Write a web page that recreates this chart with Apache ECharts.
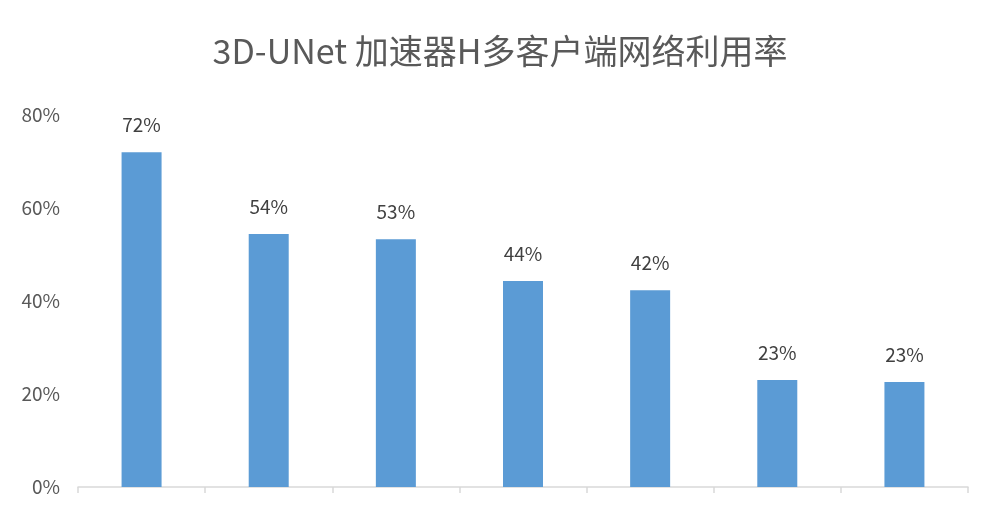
<!DOCTYPE html>
<html>
<head>
<meta charset="utf-8">
<script src="https://cdn.jsdelivr.net/npm/echarts@6/dist/echarts.min.js"></script>
<style>
    html, body {margin: 0; padding: 0; background: #fff;}
    #chartDiv {width: 1000px; height: 510px;}
</style>
</head>
<body>
<div id="chartDiv"></div>
<script>
    var titleText = '3D-UNet 加速器H多客户端网络利用率';
    var categories = ['1', '2', '3', '4', '5', '6', '7'];
    var utilization = [72.0, 54.4, 53.3, 44.3, 42.3, 23.0, 22.6];
    var yTicks = [0, 20, 40, 60, 80];

    var font = '"Noto Sans CJK SC", "Microsoft YaHei", sans-serif';

    var chart = echarts.init(document.getElementById('chartDiv'));
    var option = {
        animation: false,
        title: {
            text: titleText,
            left: 'center',
            top: 29,
            textStyle: {fontFamily: font, fontWeight: 'normal', fontSize: 34, color: '#595959'}
        },
        grid: {left: 78, right: 32, top: 115, bottom: 23},
        xAxis: {
            type: 'category',
            data: categories,
            axisLine: {lineStyle: {color: '#d9d9d9', width: 1.5}},
            axisTick: {show: true, alignWithLabel: false, length: 6, lineStyle: {color: '#d9d9d9', width: 1.5}},
            axisLabel: {show: false}
        },
        yAxis: {
            type: 'value',
            min: yTicks[0],
            max: yTicks[yTicks.length - 1],
            interval: yTicks[1] - yTicks[0],
            splitLine: {show: false},
            axisLine: {show: false},
            axisTick: {show: false},
            axisLabel: {
                margin: 18,
                fontFamily: font,
                fontSize: 19,
                color: '#595959',
                formatter: function (v) {
                    return v + '%';
                }
            }
        },
        series: [
            {
                type: 'bar',
                data: utilization,
                barWidth: 40,
                itemStyle: {color: '#5b9bd5'},
                label: {
                    show: true,
                    position: 'top',
                    distance: 18,
                    fontFamily: font,
                    fontSize: 19,
                    color: '#404040',
                    formatter: function (p) {
                        return Math.round(p.value) + '%';
                    }
                }
            }
        ]
    };
    chart.setOption(option);
</script>
</body>
</html>
